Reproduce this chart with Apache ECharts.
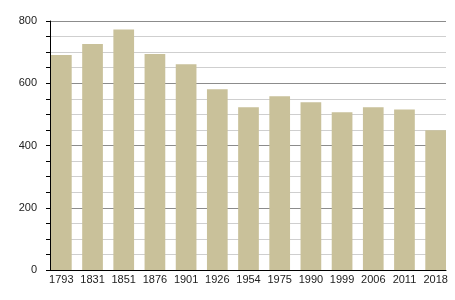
<!DOCTYPE html>
<html><head><meta charset="utf-8">
<script src="https://cdn.jsdelivr.net/npm/echarts@6/dist/echarts.min.js"></script>
<style>html,body{margin:0;padding:0;background:#fff}#c{width:455px;height:300px}</style>
</head><body><div id="c"></div>
<script>
const categories = ["1793","1831","1851","1876","1901","1926","1954","1975","1990","1999","2006","2011","2018"];
const population = [691, 726, 773, 694, 661, 581, 523, 558, 539, 507, 523, 516, 449];
const yTicks = [0, 200, 400, 600, 800];

const chart = echarts.init(document.getElementById('c'), null, {renderer:'canvas'});
chart.setOption({
  animation:false,
  backgroundColor:'#ffffff',
  grid:[
    {left:50, right:9, top:21, bottom:30},
    {left:45.75, right:3.75, top:21, bottom:30}
  ],
  xAxis:[
    {gridIndex:0, type:'value', min:0, max:1, axisLine:{show:true, lineStyle:{color:'#000', width:1}},
     axisTick:{show:false}, axisLabel:{show:false}, splitLine:{show:false}},
    {gridIndex:1, type:'category', data:categories, axisLine:{show:false}, axisTick:{show:false},
     axisLabel:{color:'#222', fontFamily:'Liberation Sans, Arial, sans-serif', fontSize:11, margin:4, interval:0}}
  ],
  yAxis:[
    {gridIndex:0, type:'value', min:yTicks[0], max:yTicks[yTicks.length-1], interval:200,
     axisLine:{show:true, lineStyle:{color:'#000', width:1}},
     axisTick:{show:true, length:4, lineStyle:{color:'#000'}},
     minorTick:{show:true, splitNumber:4, length:4, lineStyle:{color:'#000'}},
     axisLabel:{color:'#222', fontFamily:'Liberation Sans, Arial, sans-serif', fontSize:11, margin:13},
     splitLine:{show:true, lineStyle:{color:'#8c8c8c', width:1}},
     minorSplitLine:{show:true, lineStyle:{color:'#cfcfcf', width:1}}},
    {gridIndex:1, type:'value', min:0, max:800, show:false}
  ],
  series:[{
    type:'bar', xAxisIndex:1, yAxisIndex:1, data:population,
    barWidth:20.7, itemStyle:{color:'#c9c19a'}, z:3
  }]
});
</script></body></html>
